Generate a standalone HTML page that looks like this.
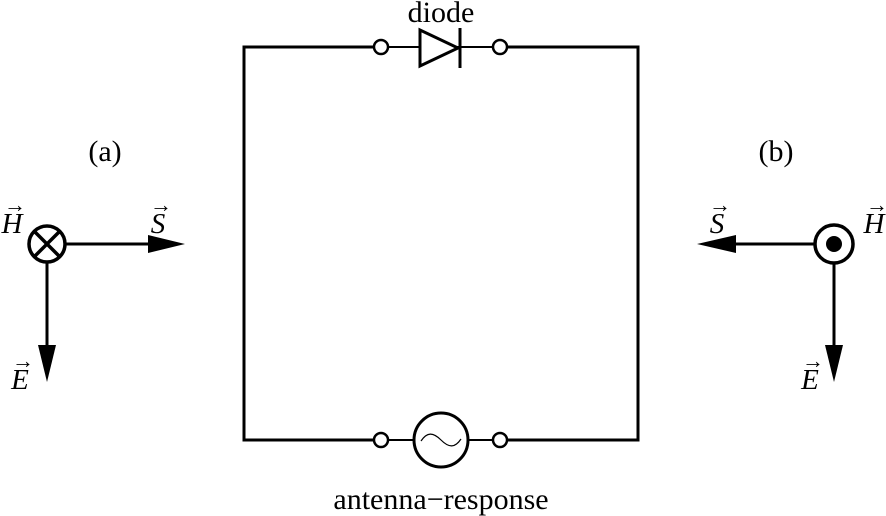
<!DOCTYPE html>
<html><head><style>body{margin:0;background:#fff}svg{display:block}</style></head><body>
<svg width="886" height="516" viewBox="0 0 886 516" xmlns="http://www.w3.org/2000/svg" font-family="Liberation Serif, serif" fill="none" stroke="#000">
<!-- circuit -->
<path d="M374,47 H244 V440 H374 M507,47 H638 V440 H507" stroke-width="3"/>
<path d="M388,47 H493 M388,440 H414 M468,440 H493" stroke-width="2"/>
<circle cx="381" cy="47" r="7" stroke-width="2.5" fill="#fff"/>
<circle cx="500" cy="47" r="7" stroke-width="2.5" fill="#fff"/>
<circle cx="381" cy="440" r="7" stroke-width="2.5" fill="#fff"/>
<circle cx="500" cy="440" r="7" stroke-width="2.5" fill="#fff"/>
<polygon points="420,30 420,66 458,48" stroke-width="3" fill="#fff"/>
<line x1="460" y1="28" x2="460" y2="68" stroke-width="3"/>
<circle cx="441" cy="440" r="27" stroke-width="3" fill="#fff"/>
<path d="M421,441 C427,432 433,432 441,440 C449,448 455,448 461,439" stroke-width="1.2"/>
<!-- left -->
<circle cx="47" cy="244" r="18" stroke-width="3.5"/>
<path d="M35,232 L59,256 M59,232 L35,256" stroke-width="3.5"/>
<path d="M65,244 H150 M47,262 V348" stroke-width="3"/>
<polygon points="148,235 185,244 148,253" fill="#000" stroke="none"/>
<polygon points="38,345 56,345 47,382" fill="#000" stroke="none"/>
<!-- right -->
<circle cx="834" cy="244" r="19" stroke-width="3.5"/>
<circle cx="834" cy="244" r="8" fill="#000" stroke="none"/>
<path d="M815,244 H734 M834,263 V348" stroke-width="3"/>
<polygon points="736,235 697,244 736,253" fill="#000" stroke="none"/>
<polygon points="825,345 843,345 834,382" fill="#000" stroke="none"/>
<!-- text -->
<g fill="#000" stroke="none" font-size="30">
<text x="441" y="22" text-anchor="middle">diode</text>
<text x="441" y="509" text-anchor="middle">antenna−response</text>
<text x="105" y="161" text-anchor="middle">(a)</text>
<text x="776" y="161" text-anchor="middle">(b)</text>
<g font-style="italic" font-size="29">
<text x="12" y="233" text-anchor="middle">H</text>
<text x="158" y="233" text-anchor="middle">S</text>
<text x="20" y="389" text-anchor="middle">E</text>
<text x="717" y="233" text-anchor="middle">S</text>
<text x="874" y="233" text-anchor="middle">H</text>
<text x="810" y="389" text-anchor="middle">E</text>
</g>
<g font-size="22">
<text x="15" y="212" text-anchor="middle">→</text>
<text x="161" y="212" text-anchor="middle">→</text>
<text x="23" y="368" text-anchor="middle">→</text>
<text x="720" y="212" text-anchor="middle">→</text>
<text x="877" y="212" text-anchor="middle">→</text>
<text x="813" y="368" text-anchor="middle">→</text>
</g>
</g>
</svg>
</body></html>
